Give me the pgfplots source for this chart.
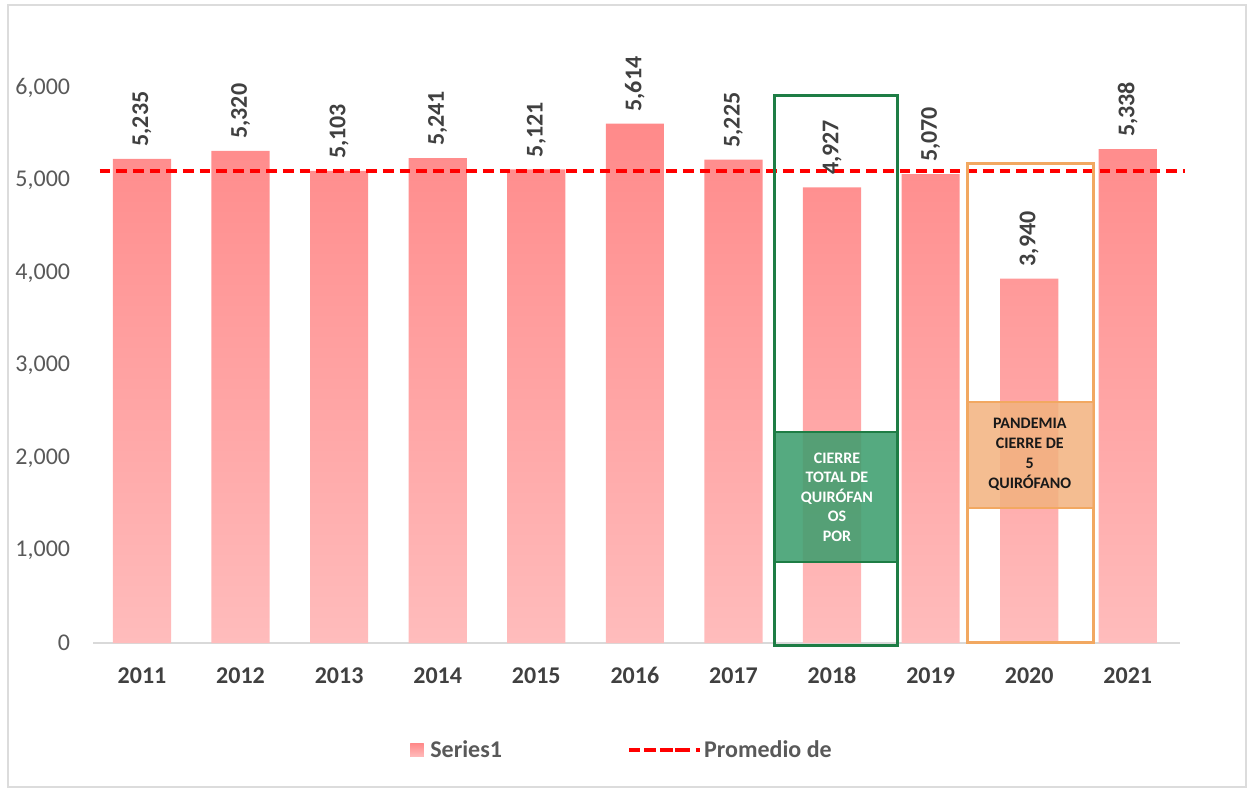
\documentclass[border=0pt]{standalone}
\usepackage{fontspec}
\setmainfont{Carlito}
\usepackage{pgfplots}
\pgfplotsset{compat=1.18}
\definecolor{bartop}{HTML}{FF8A8A}
\definecolor{barbot}{HTML}{FFBCBC}
\definecolor{barleg}{HTML}{FFB0B0}
\definecolor{framegray}{HTML}{DCDCDC}
\definecolor{axisgray}{HTML}{D9D9D9}
\definecolor{tickgray}{HTML}{595959}
\definecolor{labelgray}{HTML}{404040}
\definecolor{greenline}{HTML}{1E7D45}
\definecolor{greenfill}{HTML}{3E9E6E}
\definecolor{orangeline}{HTML}{F2A861}
\definecolor{orangefill}{HTML}{F2B27E}
\definecolor{avgred}{HTML}{FF0000}
\begin{document}
\begin{tikzpicture}
\useasboundingbox (0,0) rectangle (936pt,-591.75pt);
\draw[color=framegray, line width=1.5pt] (6pt,-3.75pt) rectangle (934.5pt,-590.25pt);
\begin{axis}[
  at={(69.75pt,-482.25pt)}, anchor=south west,
  scale only axis, width=815.25pt, height=416.25pt,
  xmin=-0.497, xmax=10.53, ymin=0, ymax=6000,
  clip=false,
  axis x line*=bottom, axis y line*=left,
  x axis line style={-, draw=axisgray, line width=1.5pt},
  y axis line style={draw=none},
  major tick length=0pt,
  xtick={0,...,10},
  xticklabels={2011,2012,2013,2014,2015,2016,2017,2018,2019,2020,2021},
  ytick={0,1000,...,6000},
  /pgf/number format/.cd, 1000 sep={,}, assume math mode=true,
  /pgfplots/.cd,
  xticklabel style={font=\bfseries\fontsize{18}{20}\selectfont, text=labelgray, inner sep=0pt, anchor=north, yshift=-18pt},
  yticklabel style={font=\fontsize{18}{20}\selectfont, text=tickgray, inner sep=0pt, anchor=east, xshift=-17pt},
  legend columns=2,
  legend style={at={(0.487,-0.193)}, anchor=center, draw=none, fill=none,
    font=\bfseries\fontsize{18}{20}\selectfont, text=tickgray,
    /tikz/every even column/.append style={column sep=92pt}},
]
\addplot[ybar, bar width=0.59, draw=none, top color=bartop, bottom color=barbot,
  nodes near coords,
  nodes near coords style={font=\bfseries\fontsize{18}{20}\selectfont, text=labelgray, rotate=90, anchor=west, inner xsep=9pt, inner ysep=0pt},
  legend image code/.code={\fill[barleg] (0pt,-5pt) rectangle (10pt,5pt); \path (0pt,0pt) -- (13pt,0pt);}]
  coordinates {(0,5235) (1,5320) (2,5103) (3,5241) (4,5121) (5,5614) (6,5225) (7,4927) (8,5070) (9,3940) (10,5338)};
\addlegendentry{Series1}
\addplot[avgred, line width=2.6pt, dash pattern=on 8pt off 4.5pt,
  legend image code/.code={\draw[avgred, line width=2.6pt, dash pattern=on 7.5pt off 4pt] (0pt,0pt) -- (40pt,0pt); \path (0pt,0pt) -- (53pt,0pt);}]
  coordinates {(-0.43,5103) (10.58,5103)};
\addlegendentry{Promedio de}
\draw[greenline, line width=2.25pt] (axis cs:6.42,-22) rectangle (axis cs:7.66,5914);
\draw[greenline, line width=1.5pt, fill=greenfill, fill opacity=0.88] (axis cs:6.42,876) rectangle (axis cs:7.66,2281);
\node[align=center, text=white, font=\bfseries\fontsize{12}{14.6}\selectfont] at (axis cs:7.05,1578) {CIERRE\\TOTAL DE\\QUIRÓFAN\\OS\\POR};
\draw[orangeline, line width=2.25pt] (axis cs:8.377,8) rectangle (axis cs:9.655,5189);
\draw[orangeline, line width=1.2pt, fill=orangefill, fill opacity=0.85] (axis cs:8.377,1459) rectangle (axis cs:9.655,2605);
\node[align=center, text=black!90, font=\bfseries\fontsize{12}{15}\selectfont] at (axis cs:9.006,2043) {PANDEMIA\\CIERRE DE\\5\\QUIRÓFANO};
\end{axis}
\end{tikzpicture}
\end{document}
